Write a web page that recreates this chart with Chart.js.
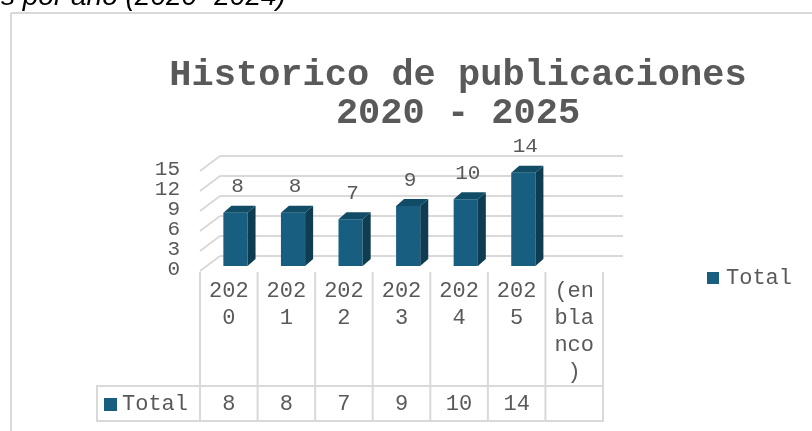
<!DOCTYPE html>
<html>
<head>
<meta charset="utf-8">
<script src="https://cdn.jsdelivr.net/npm/chart.js@4/dist/chart.umd.min.js"></script>
<style>
  html, body { margin: 0; padding: 0; background: #fff; }
  canvas { display: block; }
</style>
</head>
<body>
<canvas id="histGraph" width="812" height="431"></canvas>
<script>
// datos
const categories = ['2020', '2021', '2022', '2023', '2024', '2025', '(en blanco)'];
const totals = [8, 8, 7, 9, 10, 14, null];
const yTicks = [0, 3, 6, 9, 12, 15];
const seriesName = 'Total';
const titleLines = ['Historico de publicaciones', '2020 - 2025'];
const captionText = 's por año (2020- 2024)';

(function () {
  const ctxEl = document.getElementById('histGraph');
  const MONO = '"Liberation Mono", "Courier New", monospace';
  const GRID = '#d9d9d9';
  const TXT = '#595959';
  const FRONT_C = '#175e80';
  const TOP_C = '#114c67';
  const SIDE_C = '#0e3d51';

  // desplazamientos 3D respecto al plano de las barras
  const FX = -6.67, FY = 5;   // plano frontal
  const BX = 13.33, BY = -10; // pared trasera
  const SX = 8, SY = 7;       // profundidad de la barra

  function line(c, x1, y1, x2, y2) {
    c.beginPath();
    c.moveTo(x1, y1);
    c.lineTo(x2, y2);
    c.stroke();
  }

  function wrap(label, n) {
    const out = [];
    label.split(' ').forEach(w => {
      for (let i = 0; i < w.length; i += n) out.push(w.slice(i, i + n));
    });
    return out;
  }

  const decor = {
    id: 'decor3d',
    beforeDraw(chart) {
      const c = chart.ctx;
      const { chartArea: a, scales } = chart;
      const y = scales.y;
      c.save();
      c.fillStyle = '#fff';
      c.fillRect(0, 0, chart.width, chart.height);

      // texto cortado arriba
      c.fillStyle = '#000';
      c.font = 'italic 28px "Liberation Sans", Arial, sans-serif';
      c.textBaseline = 'alphabetic';
      c.textAlign = 'left';
      c.fillText(captionText, 1, 5);

      // marco
      c.strokeStyle = GRID;
      c.lineWidth = 2;
      line(c, 11, 13, chart.width + 5, 13);
      line(c, 11, 13, 11, chart.height + 5);

      // titulo
      c.fillStyle = TXT;
      c.font = 'bold 37px ' + MONO;
      c.textAlign = 'center';
      c.textBaseline = 'middle';
      c.fillText(titleLines[0], 458, 76);
      c.fillText(titleLines[1], 458, 114);

      // pared trasera y lateral
      c.strokeStyle = GRID;
      c.lineWidth = 2;
      yTicks.forEach(v => {
        const py = y.getPixelForValue(v);
        line(c, a.left + BX, py + BY, a.right + BX, py + BY);
        line(c, a.left + FX, py + FY, a.left + BX, py + BY);
      });

      // etiquetas del eje
      c.fillStyle = TXT;
      c.font = '21px ' + MONO;
      c.textAlign = 'right';
      c.textBaseline = 'middle';
      yTicks.forEach(v => {
        c.fillText(String(v), 180, y.getPixelForValue(v) + 3);
      });

      // tabla de datos
      const n = categories.length;
      const colW = (a.right - a.left) / n;
      const x0 = a.left + FX;
      const top = a.bottom + FY + 1;
      const rowTop = 386, rowBot = 421, headL = 97;
      c.strokeStyle = GRID;
      c.lineWidth = 2;
      for (let k = 0; k <= n; k++) {
        const bx = x0 + k * colW;
        line(c, bx, top, bx, rowBot + 1);
      }
      line(c, headL, rowTop, x0 + n * colW, rowTop);
      line(c, headL, rowBot, x0 + n * colW, rowBot);
      line(c, headL, rowTop - 1, headL, rowBot + 1);

      c.fillStyle = TXT;
      c.font = '22px ' + MONO;
      c.textAlign = 'center';
      categories.forEach((cat, i) => {
        const cx = x0 + (i + 0.5) * colW;
        wrap(cat, 3).forEach((s, j) => c.fillText(s, cx, 291 + j * 27));
        if (totals[i] != null) c.fillText(String(totals[i]), cx, 404);
      });

      // leyenda dentro de la tabla
      c.fillStyle = FRONT_C;
      c.fillRect(104, 398, 13, 13);
      c.fillStyle = TXT;
      c.textAlign = 'left';
      c.fillText(seriesName, 122, 404);

      // leyenda derecha
      c.fillStyle = FRONT_C;
      c.fillRect(707, 272, 12, 12);
      c.fillStyle = TXT;
      c.fillText(seriesName, 726, 278);
      c.restore();
    },
    afterDatasetsDraw(chart) {
      const c = chart.ctx;
      const meta = chart.getDatasetMeta(0);
      c.save();
      meta.data.forEach((bar, i) => {
        if (totals[i] == null) return;
        const { x, y: top, base, width } = bar.getProps(['x', 'y', 'base', 'width'], true);
        const l = x - width / 2, r = x + width / 2;
        // cara lateral
        c.fillStyle = SIDE_C;
        c.beginPath();
        c.moveTo(r, top);
        c.lineTo(r + SX, top - SY);
        c.lineTo(r + SX, base - SY);
        c.lineTo(r, base);
        c.closePath();
        c.fill();
        // cara superior
        c.fillStyle = TOP_C;
        c.beginPath();
        c.moveTo(l, top);
        c.lineTo(l + SX, top - SY);
        c.lineTo(r + SX, top - SY);
        c.lineTo(r, top);
        c.closePath();
        c.fill();
        // etiqueta de valor
        c.fillStyle = TXT;
        c.font = '21px ' + MONO;
        c.textAlign = 'center';
        c.textBaseline = 'middle';
        c.fillText(String(totals[i]), x + 2, top - 26);
      });
      c.restore();
    },
  };

  new Chart(ctxEl, {
    type: 'bar',
    data: {
      labels: categories,
      datasets: [
        {
          label: seriesName,
          data: totals,
          backgroundColor: FRONT_C,
          borderWidth: 0,
          categoryPercentage: 1,
          barPercentage: 0.42,
        },
      ],
    },
    options: {
      responsive: false,
      animation: false,
      devicePixelRatio: 1,
      layout: { padding: { left: 206.67, right: 202.33, top: 166, bottom: 165 } },
      plugins: {
        legend: { display: false },
        title: { display: false },
        tooltip: { enabled: false },
      },
      scales: {
        x: { display: false },
        y: { display: false, min: 0, max: 15 },
      },
    },
    plugins: [decor],
  });
})();
</script>
</body>
</html>
